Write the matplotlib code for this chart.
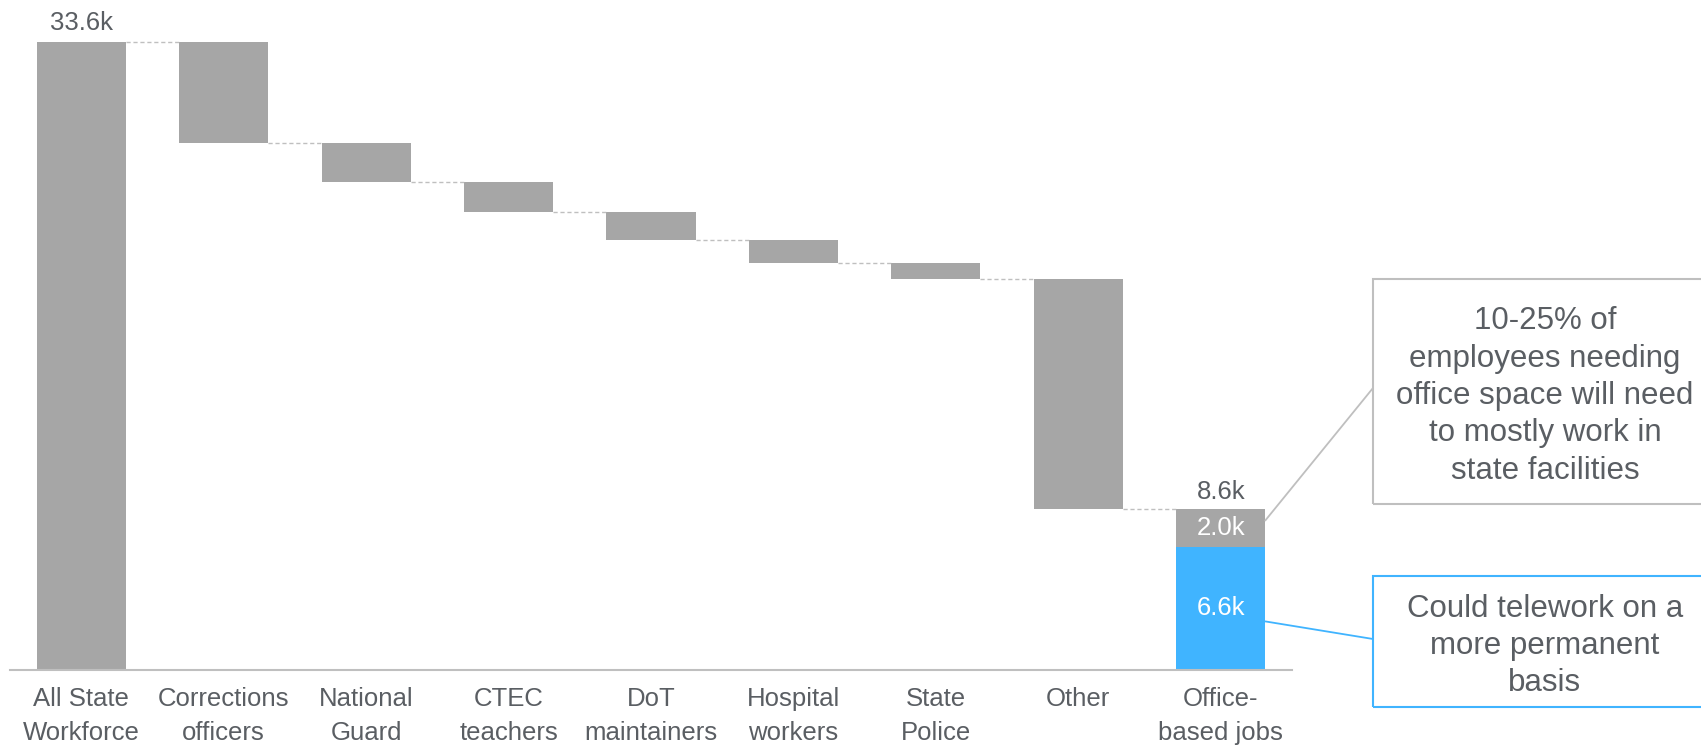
import matplotlib
matplotlib.use("Agg")
import matplotlib.pyplot as plt
from matplotlib.patches import Rectangle

plt.rcParams['font.family'] = ['Liberation Sans', 'DejaVu Sans']

# datos (miles de empleados)
categorias = ["All State\nWorkforce", "Corrections\nofficers", "National\nGuard",
              "CTEC\nteachers", "DoT\nmaintainers", "Hospital\nworkers",
              "State\nPolice", "Other", "Office-\nbased jobs"]
total_inicial = 33.6
reducciones = [5.4, 2.1, 1.6, 1.5, 1.2, 0.9, 12.3]
oficina_presencial = 2.0
teletrabajo = 6.6
total_final = 8.6

gris = '#A6A6A6'
azul = '#40B4FF'
texto = '#5A5E63'
linea = '#BFBFBF'

fig = plt.figure(figsize=(17.01, 7.47), dpi=100)
ax = fig.add_axes([10 / 1701, 77 / 747, 1282 / 1701, 670 / 747])

ancho = 0.625

# barra inicial
ax.bar(0, total_inicial, width=ancho, color=gris)
ax.annotate(f"{total_inicial:.1f}k", (0, total_inicial), xytext=(0, 8.5),
            textcoords='offset points', ha='center', va='baseline',
            fontsize=18.5, color=texto)

# barras flotantes
nivel = total_inicial
for i, r in enumerate(reducciones, start=1):
    ax.plot([i - 1 + ancho / 2, i - ancho / 2], [nivel, nivel],
            ls=(0, (3, 2)), color=linea, lw=1.0)
    ax.bar(i, r, bottom=nivel - r, width=ancho, color=gris)
    nivel -= r

# barra final apilada
n = len(categorias) - 1
ax.plot([n - 1 + ancho / 2, n - ancho / 2], [nivel, nivel],
        ls=(0, (3, 2)), color=linea, lw=1.0)
ax.bar(n, teletrabajo, width=ancho, color=azul)
ax.bar(n, oficina_presencial, bottom=teletrabajo, width=ancho, color=gris)
ax.text(n, teletrabajo / 2, f"{teletrabajo:.1f}k", ha='center', va='center',
        fontsize=18.5, color='white')
ax.text(n, teletrabajo + oficina_presencial / 2, f"{oficina_presencial:.1f}k",
        ha='center', va='center', fontsize=18.5, color='white')
ax.annotate(f"{total_final:.1f}k", (n, total_final), xytext=(0, 7.5),
            textcoords='offset points', ha='center', va='baseline',
            fontsize=18.5, color=texto)

ax.set_xlim(-0.5, n + 0.5)
ax.set_ylim(0, 670 / 18.69)
ax.set_xticks(range(len(categorias)))
ax.set_xticklabels(categorias, fontsize=18.5, color=texto, linespacing=1.55)
ax.tick_params(axis='x', length=0, pad=12)
ax.set_yticks([])
for lado in ['top', 'right', 'left']:
    ax.spines[lado].set_visible(False)
ax.spines['bottom'].set_color(linea)
ax.spines['bottom'].set_linewidth(1.5)

# cuadros de comentario
fig.add_artist(Rectangle((1373 / 1701, (747 - 504) / 747), 0.21, 225 / 747,
                         transform=fig.transFigure, fill=False,
                         edgecolor=linea, lw=1.5))
fig.text(1545 / 1701, (747 - 396) / 747,
         "10-25% of\nemployees needing\noffice space will need\nto mostly work in\nstate facilities",
         ha='center', va='center', fontsize=22.5, color=texto, linespacing=1.32)

fig.add_artist(Rectangle((1373 / 1701, (747 - 707) / 747), 0.21, 131 / 747,
                         transform=fig.transFigure, fill=False,
                         edgecolor=azul, lw=1.5))
fig.text(1545 / 1701, (747 - 646) / 747,
         "Could telework on a\nmore permanent\nbasis",
         ha='center', va='center', fontsize=22.5, color=texto, linespacing=1.3)

# lineas de conexion
ax.annotate('', xy=(1373 / 1701, (747 - 388) / 747), xycoords='figure fraction',
            xytext=(n + ancho / 2, 8.0), textcoords='data',
            arrowprops=dict(arrowstyle='-', color=linea, lw=1.3,
                            shrinkA=0, shrinkB=0))
ax.annotate('', xy=(1373 / 1701, (747 - 639) / 747), xycoords='figure fraction',
            xytext=(n + ancho / 2, 2.6), textcoords='data',
            arrowprops=dict(arrowstyle='-', color=azul, lw=1.3,
                            shrinkA=0, shrinkB=0))

fig.savefig("out.png", dpi=100)
